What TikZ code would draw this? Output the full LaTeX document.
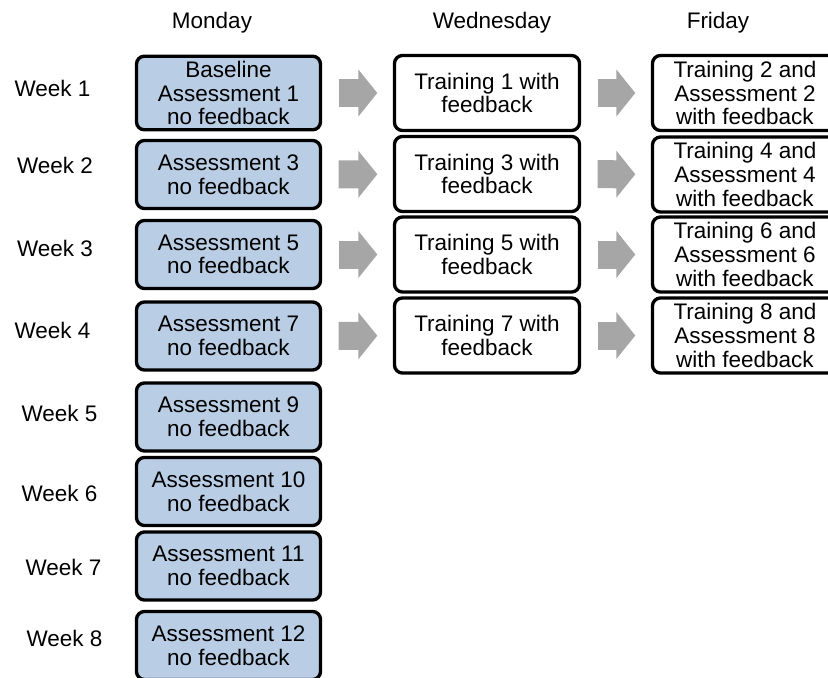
\documentclass[tikz,border=0pt]{standalone}
\usepackage{fontspec}
\setmainfont{Liberation Sans}
\usetikzlibrary{arrows.meta}
\definecolor{monblue}{HTML}{B9CDE5}
\definecolor{arrgray}{HTML}{A6A6A6}

\begin{document}
\begin{tikzpicture}[font=\fontsize{12.8}{13.4}\selectfont,
  box/.style={draw, line width=1.9pt, rounded corners=4.5pt, align=center, inner sep=0.1cm},
  mon/.style={box, fill=monblue, minimum width=3.68cm, minimum height=1.36cm},
  day/.style={box, minimum width=3.7cm, minimum height=1.5cm},
  flow/.style={arrgray, line width=0.56cm, -{Triangle[width=0.92cm,length=0.38cm]},
    shorten <=0.33cm, shorten >=0.31cm}]

\clip (0,0) rectangle (16.56,-13.56);

% days
\node (mon) at (4.24,-0.45){Monday};
\node (wed) at (9.84,-0.45){Wednesday};
\node (fri) at (14.36,-0.45){Friday};

% weeks
\node (wk1) at (1.05,-1.76){Week 1};
\node (wk2) at (1.1,-3.3){Week 2};
\node (wk3) at (1.1,-4.96){Week 3};
\node (wk4) at (1.05,-6.6){Week 4};
\node (wk5) at (1.19,-8.26){Week 5};
\node (wk6) at (1.19,-9.86){Week 6};
\node (wk7) at (1.27,-11.34){Week 7};
\node (wk8) at (1.29,-12.76){Week 8};

% monday: assessments only
\node[mon] (m1) at (4.57,-1.86){Baseline\\Assessment 1\\no feedback};
\node[mon] (m2) at (4.57,-3.49){Assessment 3\\no feedback};
\node[mon] (m3) at (4.57,-5.09){Assessment 5\\no feedback};
\node[mon] (m4) at (4.57,-6.72){Assessment 7\\no feedback};
\node[mon] (m5) at (4.57,-8.34){Assessment 9\\no feedback};
\node[mon] (m6) at (4.57,-9.83){Assessment 10\\no feedback};
\node[mon] (m7) at (4.57,-11.32){Assessment 11\\no feedback};
\node[mon] (m8) at (4.57,-12.91){Assessment 12\\no feedback};

% wednesday
\node[day] (w1) at (9.74,-1.86){Training 1 with\\feedback};
\node[day] (w2) at (9.74,-3.48){Training 3 with\\feedback};
\node[day] (w3) at (9.74,-5.09){Training 5 with\\feedback};
\node[day] (w4) at (9.74,-6.71){Training 7 with\\feedback};

% friday
\node[day] (f1) at (14.9,-1.86){Training 2 and\\Assessment 2\\with feedback};
\node[day] (f2) at (14.9,-3.49){Training 4 and\\Assessment 4\\with feedback};
\node[day] (f3) at (14.9,-5.09){Training 6 and\\Assessment 6\\with feedback};
\node[day] (f4) at (14.9,-6.71){Training 8 and\\Assessment 8\\with feedback};

\draw[flow] (m1) -- (w1);
\draw[flow] (m2) -- (w2);
\draw[flow] (m3) -- (w3);
\draw[flow] (m4) -- (w4);

\draw[flow] (w1) -- (f1);
\draw[flow] (w2) -- (f2);
\draw[flow] (w3) -- (f3);
\draw[flow] (w4) -- (f4);
\end{tikzpicture}
\end{document}
